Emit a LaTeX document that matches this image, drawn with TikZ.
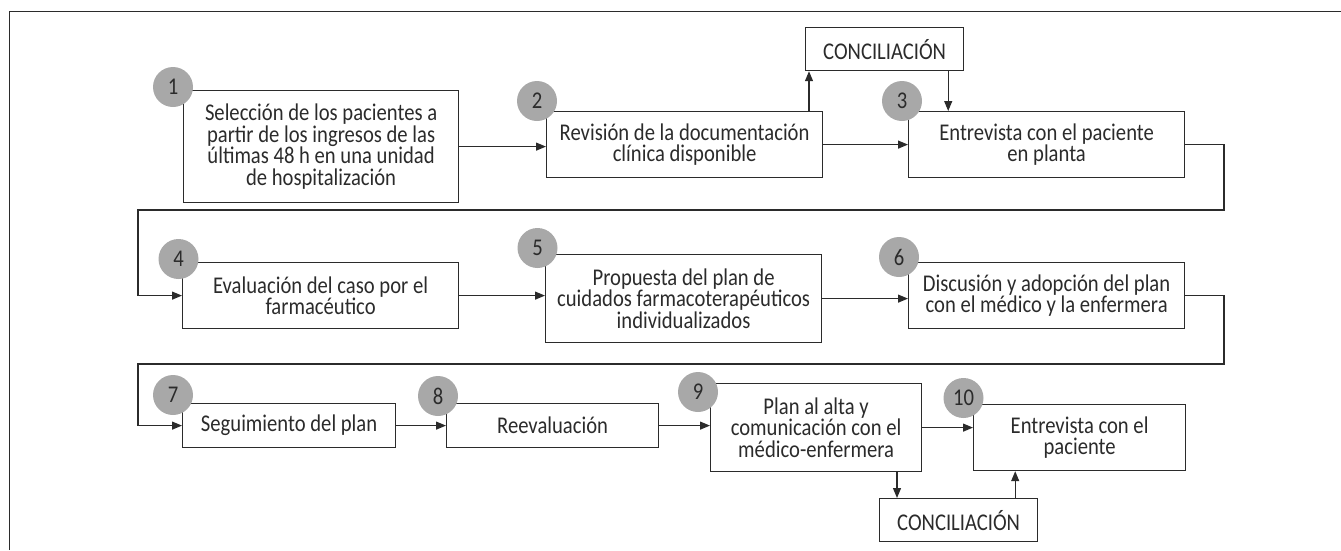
\documentclass[tikz,border=0pt]{standalone}
\usepackage{fontspec}
\setmainfont{Carlito}[FakeStretch=0.86]
\usetikzlibrary{arrows.meta}
\definecolor{ink}{HTML}{2B2B2B}
\definecolor{dot}{HTML}{A8A8A8}
\begin{document}
\begin{tikzpicture}[x=1pt,y=-1pt,
  box/.style={draw=ink, line width=1.2pt, anchor=north west, inner sep=2pt, align=center,
              font=\fontsize{24}{21.5}\selectfont, text=ink},
  num/.style={circle, fill=dot, minimum size=40pt, inner sep=0pt,
              font=\fontsize{24}{24}\selectfont, text=ink},
  arr/.style={draw=ink, line width=1.2pt, -{Triangle[length=10pt,width=8pt]}},
  ln/.style={draw=ink, line width=1.2pt}]
\useasboundingbox (0,0) rectangle (1341,550);
% frame
\draw[ink, line width=1.5pt] (9.5,550) -- (9.5,11.5) -- (1341,11.5);

% row 1
\node[box, minimum width=275pt, minimum height=112pt] (b1) at (183,90)
  {Selección de los pacientes a\\partir de los ingresos de las\\últimas 48 h en una unidad\\de hospitalización};
\node[box, minimum width=276pt, minimum height=66pt] (b2) at (546,111)
  {Revisión de la documentación\\clínica disponible};
\node[box, minimum width=276pt, minimum height=66pt] (b3) at (908,111)
  {Entrevista con el paciente\\en planta};
\node[box, minimum width=158pt, minimum height=43pt] (cA) at (805,27) {CONCILIACIÓN};

% row 2
\node[box, minimum width=276pt, minimum height=66pt] (b4) at (182,262)
  {Evaluación del caso por el\\farmacéutico};
\node[box, minimum width=276pt, minimum height=88pt] (b5) at (545,254)
  {Propuesta del plan de\\cuidados farmacoterapéuticos\\individualizados};
\node[box, minimum width=276pt, minimum height=66pt] (b6) at (908,262)
  {Discusión y adopción del plan\\con el médico y la enfermera};

% row 3
\node[box, minimum width=213pt, minimum height=44pt] (b7) at (182,403) {Seguimiento del plan};
\node[box, minimum width=212pt, minimum height=44pt] (b8) at (446,403) {Reevaluación};
\node[box, minimum width=211pt, minimum height=88pt] (b9) at (710,383)
  {Plan al alta y\\comunicación con el\\médico-enfermera};
\node[box, minimum width=212pt, minimum height=66pt] (b10) at (973,404)
  {Entrevista con el\\paciente};
\node[box, minimum width=158pt, minimum height=43pt] (cB) at (879,498) {CONCILIACIÓN};

% number circles
\node[num] (c1) at (173,87) {1};
\node[num] (c2) at (537,101) {2};
\node[num] (c3) at (902,101) {3};
\node[num] (c4) at (178.5,259) {4};
\node[num] (c5) at (537.5,248) {5};
\node[num] (c6) at (899,257) {6};
\node[num] (c7) at (173,395) {7};
\node[num] (c8) at (438,396) {8};
\node[num] (c9) at (698,392) {9};
\node[num] (c10) at (963.5,398) {10};

% helper coordinates
\coordinate (r1) at (1224,210);
\coordinate (l1) at (138,210);
\coordinate (r2) at (1224,364);
\coordinate (l2) at (138,364);
\coordinate (a2) at ([xshift=4pt]cA.south west);
\coordinate (a3) at ([xshift=-16pt]cA.south east);
\coordinate (a9) at ([xshift=18pt]cB.north west);
\coordinate (a10) at ([xshift=-23pt]cB.north east);

% connectors row 1
\draw[arr] (b1.east) -- (b1.east -| b2.west);
\draw[arr] (b2.east) -- (b2.east -| b3.west);
\draw[arr] (a2 |- b2.north) -- (a2);
\draw[arr] (a3) -- (a3 |- b3.north);
\draw[arr] (b3.east) -| (r1) -- (l1) |- (b4.west);

% row 2
\draw[arr] (b4.east) -- (b4.east -| b5.west);
\draw[arr] (b5.east) -- (b5.east -| b6.west);
\draw[arr] (b6.east) -| (r2) -- (l2) |- (b7.west);

% row 3
\draw[arr] (b7.east) -- (b7.east -| b8.west);
\draw[arr] (b8.east) -- (b8.east -| b9.west);
\draw[arr] (b9.east) -- (b9.east -| b10.west);
\draw[arr] (a9 |- b9.south) -- (a9);
\draw[arr] (a10) -- (a10 |- b10.south);
\end{tikzpicture}
\end{document}
